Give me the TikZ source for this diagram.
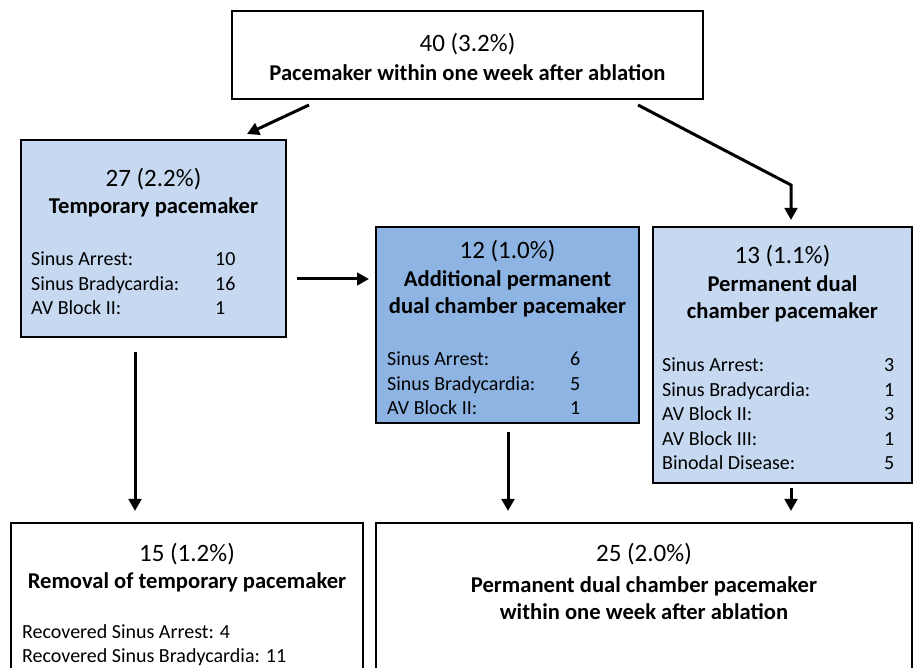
\documentclass[tikz,border=0pt]{standalone}
\usepackage{fontspec}
\setmainfont{Carlito}
\usetikzlibrary{arrows.meta}
\definecolor{lightblue}{HTML}{C6D9F1}
\definecolor{midblue}{HTML}{8DB4E2}
\begin{document}
\begin{tikzpicture}[x=1pt,y=-1pt,
  box/.style={draw=black, line width=2.4pt, anchor=north west, inner sep=0pt, outer sep=0pt},
  num/.style={anchor=base, inner sep=0pt, font=\fontsize{25}{30}\selectfont},
  ttl/.style={anchor=base, inner sep=0pt, font=\fontsize{22.6}{27}\selectfont\bfseries},
  lst/.style={anchor=base west, inner sep=0pt, font=\fontsize{20}{24.5}\selectfont},
  arr/.style={line width=3pt, -{Triangle[length=12pt,width=12.5pt]}}]
\useasboundingbox (0,0) rectangle (914,668);
\clip (0,0) rectangle (914,668);
\fill[white] (0,0) rectangle (914,668);
% boxes
\node[box, minimum width=471pt, minimum height=88pt] (top) at (232,11) {};
\node[box, fill=lightblue, minimum width=265pt, minimum height=197pt] (temp) at (21,140) {};
\node[box, fill=midblue, minimum width=263pt, minimum height=196pt] (add) at (376,227) {};
\node[box, fill=lightblue, minimum width=259pt, minimum height=256pt] (perm) at (653,227) {};
\node[box, minimum width=352pt, minimum height=200pt] (rem) at (11,523) {};
\node[box, minimum width=536pt, minimum height=200pt] (fin) at (376,523) {};
% texts
\begin{scope}[shift={(0,1.5)}]
\node[num] (t1) at (467.5,50.5) {40 (3.2\%)};
\node[ttl] (t2) at (467.5,79) {Pacemaker within one week after ablation};
\node[num] (p1) at (153.5,185) {27 (2.2\%)};
\node[ttl] (p2) at (153.5,212) {Temporary pacemaker};
\node[lst] (p3) at (31,264.5) {\begin{tabular}[t]{@{}p{184pt}@{}l@{}}
Sinus Arrest: & 10\\ Sinus Bradycardia: & 16\\ AV Block II: & 1\end{tabular}};
\node[num] (a1) at (507.5,257) {12 (1.0\%)};
\node[ttl] (a2) at (507.5,285) {Additional permanent};
\node[ttl] (a3) at (507.5,312) {dual chamber pacemaker};
\node[lst] (a4) at (387,364.5) {\begin{tabular}[t]{@{}p{183pt}@{}l@{}}
Sinus Arrest: & 6\\ Sinus Bradycardia: & 5\\ AV Block II: & 1\end{tabular}};
\node[num] (m1) at (782.5,262) {13 (1.1\%)};
\node[ttl] (m2) at (782.5,290) {Permanent dual};
\node[ttl] (m3) at (782.5,317) {chamber pacemaker};
\node[lst] (m4) at (662,370.5) {\begin{tabular*}{232pt}[t]{@{}l@{\extracolsep{\fill}}r@{}}
Sinus Arrest: & 3\\ Sinus Bradycardia: & 1\\ AV Block II: & 3\\ AV Block III: & 1\\ Binodal Disease: & 5\end{tabular*}};
\node[num] (r1) at (187,560) {15 (1.2\%)};
\node[ttl] (r2) at (187,587) {Removal of temporary pacemaker};
\node[lst] (r3) at (22,636.5) {\begin{tabular}[t]{@{}l@{}}
Recovered Sinus Arrest: 4\\ Recovered Sinus Bradycardia: 11\end{tabular}};
\node[num] (f1) at (644,560) {25 (2.0\%)};
\node[ttl] (f2) at (644,591) {Permanent dual chamber pacemaker};
\node[ttl] (f3) at (644,618) {within one week after ablation};
\end{scope}
% connectors
\coordinate (e1s) at (309,105); \coordinate (e1e) at (247,134);
\coordinate (e2s) at (638,105); \coordinate (e2m) at (791,185); \coordinate (e2e) at (791,220);
\coordinate (e3s) at (297,279); \coordinate (e3e) at (369,279);
\coordinate (e4s) at (135,352); \coordinate (e4e) at (135,511);
\coordinate (e5s) at (508,432); \coordinate (e5e) at (508,511);
\coordinate (e6s) at (791,488); \coordinate (e6e) at (791,511);
\draw[arr] (e1s) -- (e1e);
\draw[arr] (e2s) -- (e2m) -- (e2e);
\draw[arr] (e3s) -- (e3e);
\draw[arr] (e4s) -- (e4e);
\draw[arr] (e5s) -- (e5e);
\draw[arr] (e6s) -- (e6e);
\end{tikzpicture}
\end{document}
